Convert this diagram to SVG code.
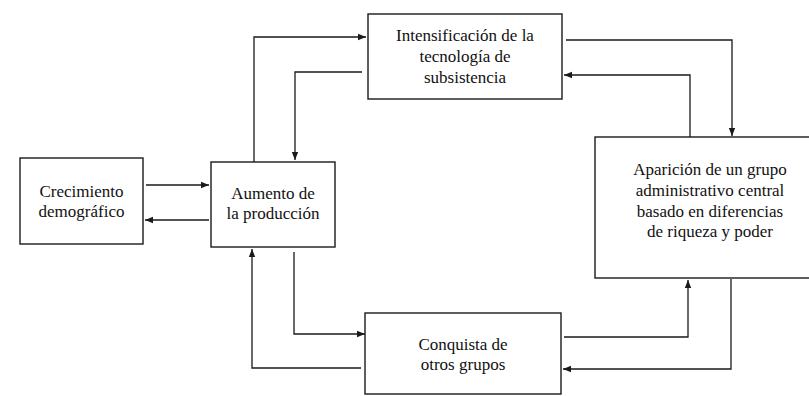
<svg xmlns="http://www.w3.org/2000/svg" width="809" height="396" viewBox="0 0 809 396">
<defs>
<style>
.box{fill:#fff;stroke:#1a1a1a;stroke-width:1.4}
.lbl{font-family:"Liberation Serif","Times New Roman",serif;font-size:17px;fill:#111;text-anchor:middle}
.con{fill:none;stroke:#1a1a1a;stroke-width:1.3}
</style>
<marker id="ah" markerWidth="9" markerHeight="8" refX="8" refY="4" orient="auto" markerUnits="userSpaceOnUse">
<path d="M0,0.8 L8,4 L0,7.2 Z" fill="#1a1a1a"/>
</marker>
</defs>
<rect width="809" height="396" fill="#fff"/>
<g id="connectors">
<path class="con" marker-end="url(#ah)" d="M254,162 V37 H366"/>
<path class="con" marker-end="url(#ah)" d="M362,72 H295 V160"/>
<path class="con" marker-end="url(#ah)" d="M146,185 H209"/>
<path class="con" marker-end="url(#ah)" d="M209,220 H145"/>
<path class="con" marker-end="url(#ah)" d="M294,252 V334 H365"/>
<path class="con" marker-end="url(#ah)" d="M361,368 H252 V249"/>
<path class="con" marker-end="url(#ah)" d="M566,40 H732 V136"/>
<path class="con" marker-end="url(#ah)" d="M690,137 V75 H564"/>
<path class="con" marker-end="url(#ah)" d="M564,337 H688 V280"/>
<path class="con" marker-end="url(#ah)" d="M731,279 V369 H563"/>
</g>
<g id="crecimiento">
<rect class="box" x="20" y="158" width="123" height="86"/>
<text class="lbl" x="81.5" y="197">Crecimiento</text>
<text class="lbl" x="81.5" y="217">demográfico</text>
</g>
<g id="aumento">
<rect class="box" x="211" y="162" width="124" height="85"/>
<text class="lbl" x="273" y="199">Aumento de</text>
<text class="lbl" x="273" y="219">la producción</text>
</g>
<g id="intensificacion">
<rect class="box" x="368" y="14" width="194" height="85"/>
<text class="lbl" x="465" y="41">Intensificación de la</text>
<text class="lbl" x="465" y="62">tecnología de</text>
<text class="lbl" x="465" y="83">subsistencia</text>
</g>
<g id="aparicion">
<rect class="box" x="595" y="137" width="230" height="141"/>
<text class="lbl" x="710" y="175">Aparición de un grupo</text>
<text class="lbl" x="710" y="196">administrativo central</text>
<text class="lbl" x="710" y="217">basado en diferencias</text>
<text class="lbl" x="710" y="237">de riqueza y poder</text>
</g>
<g id="conquista">
<rect class="box" x="365" y="313" width="196" height="81"/>
<text class="lbl" x="463" y="350">Conquista de</text>
<text class="lbl" x="463" y="370">otros grupos</text>
</g>
</svg>
